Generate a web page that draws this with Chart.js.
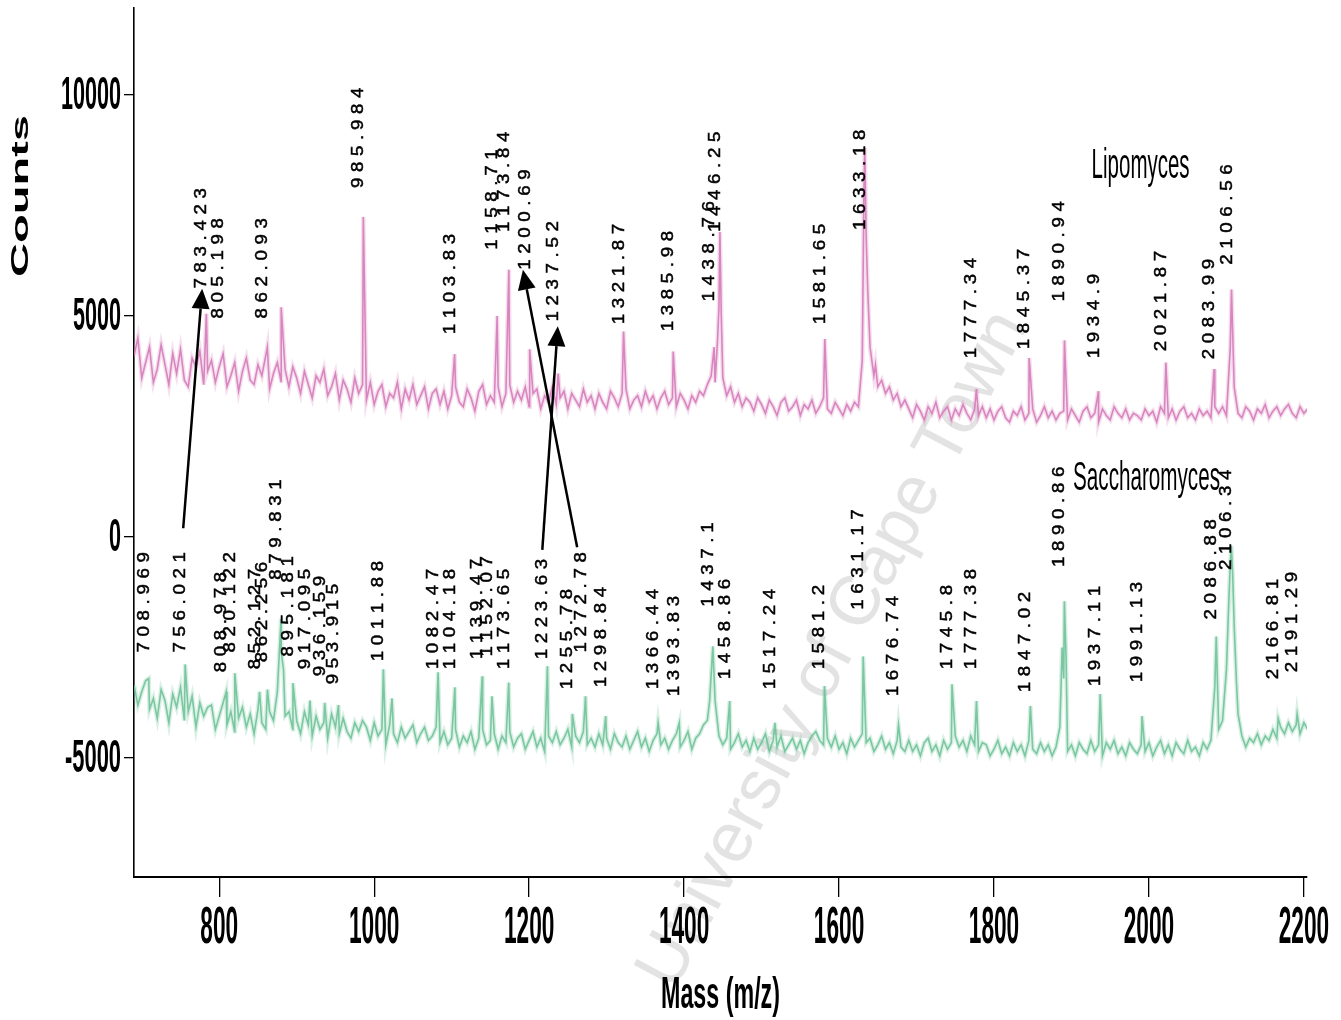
<!DOCTYPE html>
<html>
<head>
<meta charset="utf-8">
<title>MALDI-TOF spectra: Lipomyces and Saccharomyces</title>
<script src="https://cdn.jsdelivr.net/npm/chart.js@4.4.1/dist/chart.umd.min.js"></script>
<style>
  html, body { margin: 0; padding: 0; background: #ffffff; }
  canvas { display: block; }
</style>
</head>
<body>
<canvas id="spectrum" width="1341" height="1020"></canvas>
<script>
// Spectrum signal, one value every massStep m/z starting at massStart
const massStart = 690;
const massStep = 5;

const lipoNoise = [
  4100, 4500, 3600, 3950, 4300, 3500, 3800, 4350, 3900, 3450, 4150, 3700, 4250, 3550, 3400, 4050, 3850, 4200, 3450, 3750,
  4000, 3500, 3850, 4150, 3400, 3650, 3950, 3300, 3750, 4050, 3550, 3450, 3900, 3650, 4100, 3350, 3700, 3950, 3500, 3800,
  3400, 3850, 3600, 3250, 3750, 3450, 3150, 3650, 3500, 3800, 3200, 3400, 3700, 3100, 3550, 3350, 3050, 3600, 3250, 3450,
  3100, 3500, 3000, 3300, 3450, 2950, 3250, 3150, 3500, 2900, 3350, 3100, 3450, 3000, 3200, 3400, 2900, 3250, 3350, 3000,
  3300, 2900, 3200, 3400, 3050, 2950, 3350, 3150, 2850, 3300, 3450, 3000, 3200, 3050, 3400, 2950, 3250, 3450, 3050, 3300,
  3100, 3400, 2950, 3250, 3350, 2900, 3200, 3050, 3400, 3000, 3150, 3300, 2900, 3250, 3100, 2950, 3350, 3050, 3200, 2900,
  3250, 3050, 2900, 3300, 3150, 2950, 3250, 3350, 2900, 3100, 3200, 2950, 3300, 3050, 3200, 2900, 3150, 3300, 3000, 3150,
  2950, 3250, 3100, 2900, 3200, 3050, 3300, 3200, 3450, 3650, 3500, 5200, 3600, 3200, 3400, 3050, 3250, 2950, 3150, 3050,
  2850, 3150, 3000, 2800, 3100, 2950, 2750, 3050, 3150, 2850, 2950, 3100, 2750, 3000, 2900, 3100, 2800, 2950, 3150, 2900,
  2800, 3050, 2900, 2750, 3000, 2850, 3050, 2950, 4000, 6800, 4300, 3650, 3400, 3550, 3250, 3400, 3100, 3250, 2950, 3100,
  2900, 2700, 3000, 2850, 2650, 2950, 2800, 3050, 2700, 2850, 2950, 2650, 2900, 2750, 3000, 2800, 2650, 2900, 2750, 2950,
  2700, 2900, 2650, 2850, 2950, 2700, 2600, 2850, 2750, 2950, 2650, 2800, 2900, 2600, 2750, 2950, 2700, 2850, 2650, 2800,
  2850, 2650, 2900, 2750, 2600, 2850, 2950, 2700, 2800, 2600, 2900, 2750, 2650, 2950, 2800, 2700, 2900, 2650, 2800, 2750,
  2650, 2900, 2750, 2850, 2600, 2950, 2800, 2700, 2900, 2650, 2850, 2950, 2700, 2800, 2650, 2900, 2750, 2850, 2700, 2950,
  2800, 2950, 2750, 4300, 3400, 2800, 2700, 2950, 2850, 2650, 2900, 2800, 3000, 2700, 2850, 2950, 2750, 2900, 3000, 2800,
  2700, 2950, 2800, 2900
];

const saccNoise = [
  -3350, -3800, -3500, -3250, -3900, -3650, -4100, -3450, -3700, -4200, -3550, -3850, -3400, -4150, -3950, -3600, -4300, -3750, -4050, -3850,
  -3800, -4350, -4050, -3750, -4250, -3950, -4400, -4100, -3850, -4300, -4000, -4450, -3900, -4200, -4350, -3950, -4150, -3500, -2600, -4050,
  -3950, -4350, -4150, -4450, -3950, -4250, -4500, -4050, -4350, -4200, -4550, -4000, -4300, -4450, -4100, -4400, -4550, -4200, -4400, -4150,
  -4300, -4600, -4200, -4500, -4350, -4700, -4250, -4450, -4650, -4300, -4550, -4400, -4250, -4650, -4450, -4300, -4600, -4500, -4300, -4650,
  -4400, -4700, -4550, -4350, -4750, -4500, -4650, -4400, -4800, -4550, -4350, -4700, -4600, -4450, -4800, -4500, -4650, -4400, -4750, -4550,
  -4450, -4800, -4600, -4400, -4750, -4550, -4850, -4500, -4650, -4400, -4700, -4550, -4350, -4750, -4500, -4650, -4400, -4700, -4550, -4750,
  -4450, -4700, -4550, -4800, -4450, -4650, -4750, -4500, -4800, -4600, -4400, -4750, -4550, -4850, -4600, -4450, -4700, -4550, -4800, -4600,
  -4450, -4750, -4600, -4400, -4800, -4550, -4450, -4250, -4150, -3100, -3700, -4500, -4700, -4550, -4800, -4650, -4450, -4750, -4600, -4850,
  -4550, -4800, -4650, -4450, -4850, -4600, -4750, -4500, -4850, -4700, -4550, -4800, -4600, -4900, -4650, -4500, -4400, -4600, -4700, -4550,
  -4750, -4500, -4800, -4650, -4900, -4550, -4750, -4600, -4450, -4650, -4550, -4850, -4700, -4500, -4800, -4650, -4900, -4600, -4750, -4850,
  -4600, -4850, -4700, -4950, -4650, -4550, -4850, -4700, -4950, -4600, -4800, -4650, -4500, -4750, -4600, -4850, -4500, -4700, -4850, -4650,
  -4700, -4950, -4800, -4600, -4900, -4750, -4950, -4650, -4850, -4700, -4950, -4600, -4800, -4900, -4650, -4850, -4700, -4950, -4750, -4300,
  -3200, -4850, -4700, -4950, -4650, -4800, -4900, -4600, -4850, -4700, -4950, -4650, -4800, -4600, -4900, -4750, -4950, -4650, -4800, -4900,
  -4700, -4850, -4650, -4950, -4750, -4600, -4900, -4700, -4950, -4650, -4800, -4900, -4600, -4850, -4750, -4950, -4650, -4800, -4600, -3400,
  -4350, -4150, -3000, -600, -2000, -4000, -4500, -4750, -4550, -4650, -4450, -4700, -4500, -4600, -4350, -4550, -4300, -4450, -4200, -4400,
  -4250, -4450, -4200, -4350
];

// Peak apexes and shoulders: [m/z, counts]
const lipoPeaks = [
  [783.423, 5050], [805.198, 4150], [862.093, 4300], [880, 5200], [985.984, 7240],
  [1103.83, 4140], [1158.71, 5000], [1173.84, 6050], [1200.69, 4250], [1237.52, 3700],
  [1321.87, 4650], [1385.98, 4200], [1438.76, 4300], [1443, 4400], [1446.25, 6900], [1448, 5000],
  [1581.65, 4480], [1632, 7600], [1633.18, 8800], [1637, 5600], [1647, 3900],
  [1777.34, 3350], [1845.37, 4050], [1890.94, 4450], [1934.9, 3300], [2021.87, 3950],
  [2083.99, 3800], [2106.56, 5600]
];

const saccPeaks = [
  [708.969, -3200], [756.021, -2880], [808.978, -3500], [820.122, -3080], [852.127, -3500],
  [862.256, -3450], [879.831, -1850], [883, -3000], [895.181, -3300], [917.095, -3700],
  [936.159, -3750], [953.915, -3800], [1011.88, -2990], [1023, -3650], [1082.47, -3060],
  [1104.18, -3400], [1139.47, -3150], [1152.07, -3600], [1173.65, -3290], [1223.63, -2920],
  [1255.78, -4000], [1272.78, -3600], [1298.84, -4050], [1366.44, -4200], [1393.83, -4200],
  [1433, -3700], [1437.1, -2470], [1458.86, -3710], [1517.24, -4200], [1581.2, -3370], [1631.17, -2700],
  [1676.74, -4250], [1745.8, -3330], [1777.38, -3710], [1847.02, -3820], [1888, -2500],
  [1890.86, -1450], [1893, -2700], [1937.11, -3550], [1991.13, -4050], [2086.88, -2250],
  [2103, -1500], [2106.34, -200], [2108, -800], [2113, -3300], [2166.81, -4100], [2191.29, -4000]
];

// Peak annotations (m/z text) and the count level where each text starts
const lipoLabels = ['783.423', '805.198', '862.093', '985.984', '1103.83', '1158.71', '1173.84', '1200.69',
  '1237.52', '1321.87', '1385.98', '1438.76', '1446.25', '1581.65', '1633.18', '1777.34', '1845.37',
  '1890.94', '1934.9', '2021.87', '2083.99', '2106.56'];
const lipoLabelAt = [5622, 4948, 4948, 7900, 4588, 6500, 6900, 6050,
  4880, 4813, 4655, 5330, 6904, 4813, 6950, 4048, 4250,
  5330, 4048, 4205, 4026, 6162];

const saccLabels = ['708.969', '756.021', '808.978', '820.122', '852.127', '862.256', '879.831', '895.181',
  '917.095', '936.159', '953.915', '1011.88', '1082.47', '1104.18', '1139.47', '1152.07', '1173.65',
  '1223.63', '1255.78', '1272.78', '1298.84', '1366.44', '1393.83', '1437.1', '1458.86', '1517.24',
  '1581.2', '1631.17', '1676.74', '1745.8', '1777.38', '1847.02', '1890.86', '1937.11', '1991.13',
  '2086.88', '2106.34', '2166.81', '2191.29'];
const saccLabelAt = [-2609, -2609, -3059, -2609, -2991, -2834, -967, -2699,
  -2991, -3149, -3329, -2811, -2991, -2991, -2766, -2699, -2991,
  -2766, -3441, -2609, -3396, -3441, -3598, -1574, -3216, -3441,
  -2991, -1642, -3598, -2991, -2991, -3508, -675, -3373, -3283,
  -1867, -742, -3216, -3059];

// Arrows linking shared peaks: [from m/z, from counts, to m/z, to counts]
const arrows = [
  [753.5, 200, 778, 5620],
  [1262, -230, 1192, 6050],
  [1217, -290, 1237, 4770]
];

// Series names: [text, m/z of left edge, counts at baseline]
const seriesNames = [['Lipomyces', 1926, 8120], ['Saccharomyces', 1902, 1060]];

const xTicks = [800, 1000, 1200, 1400, 1600, 1800, 2000, 2200];
const yTicks = [-5000, 0, 5000, 10000];

function buildSpectrum(noise, peaks) {
  const pts = noise.map((v, i) => ({ x: massStart + i * massStep, y: v }));
  peaks.forEach(([m, c]) => pts.push({ x: m, y: c }));
  pts.sort((a, b) => a.x - b.x);
  return pts;
}

const SANS = '"Liberation Sans", Arial, sans-serif';
const NARROW = '"Liberation Sans Narrow", "Arial Narrow", "Liberation Sans", Arial, sans-serif';

// Draws text squeezed/stretched to a given width and cap height; y is the baseline
function drawFitted(ctx, text, x, y, font, width, capHeight, align, capChar) {
  ctx.save();
  ctx.font = font;
  const w = ctx.measureText(text).width;
  const cap = ctx.measureText(capChar || '0').actualBoundingBoxAscent;
  ctx.translate(x, y);
  ctx.scale(width / w, capHeight / cap);
  ctx.textAlign = align;
  ctx.textBaseline = 'alphabetic';
  ctx.fillText(text, 0, 0);
  ctx.restore();
}

// Vertical peak annotation: reads bottom to top, baseline on the peak position
function drawPeakLabel(ctx, text, x, yStart) {
  ctx.save();
  ctx.translate(x, yStart);
  ctx.rotate(-Math.PI / 2);
  ctx.font = '17px ' + SANS;
  ctx.textAlign = 'left';
  ctx.textBaseline = 'alphabetic';
  ctx.lineWidth = 0.5;
  ctx.strokeStyle = '#000000';
  let pos = 0;
  for (const ch of text) {
    ctx.save();
    ctx.translate(pos, 0);
    ctx.scale(1.1, 1);
    ctx.fillText(ch, 0, 0);
    ctx.strokeText(ch, 0, 0);
    ctx.restore();
    pos += ch === '.' ? 10 : 16;
  }
  ctx.restore();
}

function drawArrow(ctx, x1, y1, x2, y2) {
  const dx = x2 - x1, dy = y2 - y1;
  const len = Math.hypot(dx, dy);
  const ux = dx / len, uy = dy / len;
  const headLen = 20, headHalf = 9;
  const bx = x2 - ux * headLen, by = y2 - uy * headLen;
  ctx.beginPath();
  ctx.moveTo(x1, y1);
  ctx.lineTo(bx, by);
  ctx.stroke();
  ctx.beginPath();
  ctx.moveTo(x2, y2);
  ctx.lineTo(bx - uy * headHalf, by + ux * headHalf);
  ctx.lineTo(bx + uy * headHalf, by - ux * headHalf);
  ctx.closePath();
  ctx.fill();
}

const decorations = {
  id: 'decorations',
  beforeDraw(chart) {
    const ctx = chart.ctx;
    ctx.save();
    ctx.fillStyle = '#ffffff';
    ctx.fillRect(0, 0, chart.width, chart.height);
    // repository watermark
    ctx.translate(834, 650);
    ctx.rotate(-62 * Math.PI / 180);
    ctx.font = '70px ' + SANS;
    ctx.fillStyle = '#e3e3e3';
    ctx.textAlign = 'center';
    ctx.textBaseline = 'middle';
    ctx.fillText('University of Cape Town', 0, 0);
    ctx.restore();
  },
  afterDraw(chart) {
    const ctx = chart.ctx;
    const xs = chart.scales.x, ys = chart.scales.y;
    ctx.save();
    ctx.fillStyle = '#000000';

    // tick labels
    xTicks.forEach(v => {
      const t = String(v);
      drawFitted(ctx, t, xs.getPixelForValue(v), 943, 'bold 28px ' + NARROW, 12.6 * t.length, 35, 'center');
    });
    yTicks.forEach(v => {
      const t = String(v);
      const w = t.startsWith('-') ? 12 * (t.length - 1) + 8 : 12 * t.length;
      drawFitted(ctx, t, 121, ys.getPixelForValue(v) + 13.5, 'bold 28px ' + NARROW, w, 31, 'right');
    });

    // axis titles
    drawFitted(ctx, 'Mass (m/z)', (chart.chartArea.left + chart.chartArea.right) / 2, 1008,
      'bold 28px ' + NARROW, 119, 30, 'center', 'M');
    ctx.save();
    ctx.translate(28, 196);
    ctx.rotate(-Math.PI / 2);
    drawFitted(ctx, 'Counts', 0, 0, 'bold 22px ' + SANS, 162, 16, 'center', 'C');
    ctx.restore();

    // peak annotations
    lipoLabels.forEach((t, i) => drawPeakLabel(ctx, t, xs.getPixelForValue(parseFloat(t)), ys.getPixelForValue(lipoLabelAt[i])));
    saccLabels.forEach((t, i) => drawPeakLabel(ctx, t, xs.getPixelForValue(parseFloat(t)), ys.getPixelForValue(saccLabelAt[i])));

    // series names
    drawFitted(ctx, seriesNames[0][0], xs.getPixelForValue(seriesNames[0][1]), ys.getPixelForValue(seriesNames[0][2]),
      '28px ' + NARROW, 98, 29, 'left', 'L');
    drawFitted(ctx, seriesNames[1][0], xs.getPixelForValue(seriesNames[1][1]), ys.getPixelForValue(seriesNames[1][2]),
      '28px ' + NARROW, 147, 28, 'left', 'S');

    // arrows
    ctx.strokeStyle = '#000000';
    ctx.lineWidth = 2.5;
    arrows.forEach(([m1, c1, m2, c2]) => {
      drawArrow(ctx, xs.getPixelForValue(m1), ys.getPixelForValue(c1), xs.getPixelForValue(m2), ys.getPixelForValue(c2));
    });
    ctx.restore();
  }
};

const lipoSpectrum = buildSpectrum(lipoNoise, lipoPeaks);
const saccSpectrum = buildSpectrum(saccNoise, saccPeaks);

// Each trace is drawn twice: a soft wide pass underneath and the sharp trace on top
function traceStyle(color, width, order) {
  return { borderColor: color, borderWidth: width, pointRadius: 0, tension: 0, fill: false, order: order };
}

new Chart(document.getElementById('spectrum'), {
  type: 'line',
  data: {
    datasets: [
      Object.assign({ label: 'Lipomyces', data: lipoSpectrum }, traceStyle('rgba(212, 118, 182, 0.85)', 1.6, 1)),
      Object.assign({ label: 'Saccharomyces', data: saccSpectrum }, traceStyle('rgba(104, 192, 148, 0.85)', 1.6, 1)),
      Object.assign({ label: 'Lipomyces band', data: lipoSpectrum }, traceStyle('rgba(220, 140, 195, 0.28)', 4.5, 2)),
      Object.assign({ label: 'Saccharomyces band', data: saccSpectrum }, traceStyle('rgba(120, 200, 160, 0.28)', 4.5, 2))
    ]
  },
  options: {
    responsive: false,
    animation: false,
    events: [],
    layout: { padding: { left: 134, right: 34, top: 8, bottom: 143 } },
    plugins: { legend: { display: false }, tooltip: { enabled: false } },
    scales: {
      x: {
        type: 'linear',
        min: 690,
        max: 2204,
        afterFit: s => { s.height = 0; },
        afterBuildTicks: s => { s.ticks = xTicks.map(v => ({ value: v })); },
        ticks: { display: false },
        grid: { drawOnChartArea: false, drawTicks: true, tickLength: 20, color: '#000000', lineWidth: 1.3 },
        border: { display: true, color: '#000000', width: 2 }
      },
      y: {
        type: 'linear',
        min: -7690,
        max: 11970,
        afterFit: s => { s.width = 0; },
        afterBuildTicks: s => { s.ticks = yTicks.map(v => ({ value: v })); },
        ticks: { display: false },
        grid: { drawOnChartArea: false, drawTicks: true, tickLength: 10, color: '#000000', lineWidth: 1.3 },
        border: { display: true, color: '#000000', width: 1.6 }
      }
    }
  },
  plugins: [decorations]
});
</script>
</body>
</html>
